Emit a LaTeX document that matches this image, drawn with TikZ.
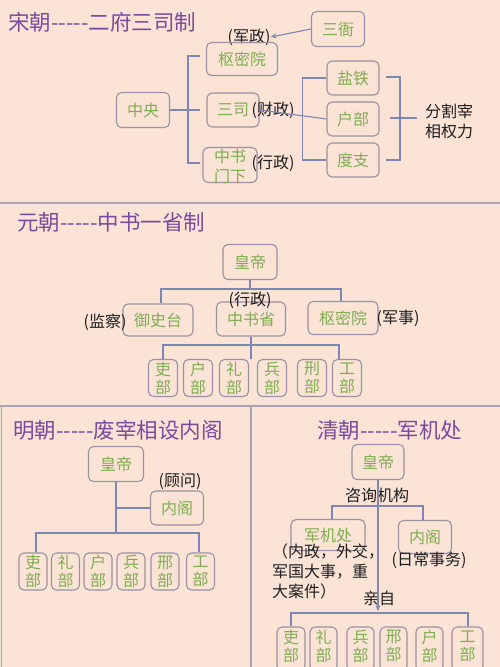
\documentclass[tikz,border=0pt]{standalone}
\usepackage{fontspec}
\setmainfont{Noto Sans CJK SC}
\usetikzlibrary{arrows.meta,calc}
\definecolor{bg}{RGB}{251,227,214}
\definecolor{ttl}{RGB}{122,74,158}
\definecolor{grn}{RGB}{128,172,82}
\definecolor{bdr}{RGB}{152,146,162}
\definecolor{lnk}{RGB}{128,134,178}
\definecolor{sepc}{RGB}{168,164,176}
\definecolor{ink}{RGB}{30,30,30}
\newcommand{\dashrun}{-{}-{}-{}-{}-}
\begin{document}
\begin{tikzpicture}[x=1pt,y=-1pt,
  box/.style={draw=bdr, line width=1.1pt, rounded corners=5pt, inner sep=0pt, text=grn, font=\fontsize{16}{18}\selectfont},
  sbox/.style={box, minimum width=29pt, minimum height=37pt, align=center},
  qbox/.style={draw=bdr, line width=1.1pt, rounded corners=5pt, inner sep=0pt, minimum height=44pt},
  gtext/.style={text=grn, inner sep=0pt, align=center, font=\fontsize{16}{18}\selectfont},
  btext/.style={text=ink, inner sep=0pt, font=\fontsize{16}{20}\selectfont},
  ttlnode/.style={text=ttl, inner sep=0pt, anchor=west, font=\fontsize{21.5}{24}\selectfont},
  link/.style={draw=lnk, line width=1.1pt},
  sepline/.style={draw=sepc, line width=1.2pt},
  arr/.style={link, -{Stealth[length=6pt,width=5pt]}}
]
\fill[bg] (0,0) rectangle (500,667);
\useasboundingbox (0,0) rectangle (500,667);

% ---------------- Song ----------------
\node[ttlnode] (t1) at (8,22) {宋朝\dashrun 二府三司制};
\node[box, minimum width=53pt, minimum height=35pt] (sanya) at (338,29) {三衙};
\node[btext] (jz) at (249,37) {(军政)};
\node[box, minimum width=71pt, minimum height=33pt] (smy) at (242,59) {枢密院};
\node[box, minimum width=52pt, minimum height=34pt] (sansi) at (233,110) {三司};
\node[btext] (cz) at (273,110) {(财政)};
\node[box, minimum width=54pt, minimum height=35pt] (zsmx) at (230,165) {};
\node[gtext, font=\fontsize{16}{20}\selectfont] (zsmxt) at (230,166) {中书\\门下};
\node[btext] (xz1) at (273,163) {(行政)};
\node[box, minimum width=53pt, minimum height=35pt] (zy) at (143,110) {中央};
\node[box, minimum width=52pt, minimum height=34pt] (yt) at (353,78) {盐铁};
\node[box, minimum width=52pt, minimum height=34pt] (hb1) at (353,119) {户部};
\node[box, minimum width=52pt, minimum height=34pt] (dz) at (353,160) {度支};
\node[btext, align=center] (fg) at (449,121) {分割宰\\相权力};

\draw[arr] (sanya.west) -- (jz.east);
\coordinate (b1t) at (200,56);
\coordinate (b1b) at (200,163);
\coordinate (b1m) at (200,110);
\draw[link] (zy.east) -- (b1m);
\draw[link] (b1t) -- ++(-12,0) |- (b1b);
\draw[link] (sansi.east) -- (hb1.west);
\draw[link] (yt.west) -- ++(-24,0) |- (dz.west);
\coordinate (b2t) at (386,77);
\coordinate (b2b) at (386,160);
\coordinate (b2ms) at (390,118);
\coordinate (b2me) at (417,118);
\draw[link] (b2t) -- ++(14,0) |- (b2b);
\draw[link] (b2ms) -- (b2me);

\draw[sepline] (0,203) -- (500,203);

% ---------------- Yuan ----------------
\node[ttlnode] (t2) at (17,222) {元朝\dashrun 中书一省制};
\node[box, minimum width=54pt, minimum height=35pt] (hd2) at (250,262) {皇帝};
\node[box, minimum width=70pt, minimum height=32pt] (yst) at (158,320) {御史台};
\node[btext] (jc) at (105,322) {(监察)};
\node[box, minimum width=69pt, minimum height=34pt] (zss) at (251,319) {中书省};
\node[btext] (xz2) at (250,300) {(行政)};
\node[box, minimum width=70pt, minimum height=33pt] (smy2) at (343,318) {枢密院};
\node[btext] (js) at (398,318) {(军事)};
\foreach \n/\x/\c in {y1/163/吏, y2/198/户, y3/234/礼, y4/272/兵, y5/312/刑, y6/347/工}
  \node[sbox] (\n) at (\x,378) {\c\\部};

\coordinate (y2j) at (250,289);
\coordinate (y2a) at (161,289);
\coordinate (y2b) at (341,289);
\draw[link] (hd2.south) -- (y2j);
\draw[link] (yst.north -| y2a) -- (y2a) -- (y2b) -- (smy2.north -| y2b);
\draw[link] (zss.south) -- (zss.south |- y3.north);
\coordinate (y3a) at (163,345);
\coordinate (y3b) at (339,345);
\draw[link] (y1.north) -- (y3a) -- (y3b) -- (y3b |- y6.north);

\draw[sepline] (0,406) -- (500,406);
\draw[sepline] (251,406) -- (251,667);
\draw[sepline, line width=0.8pt] (1,406) -- (1,667);

% ---------------- Ming ----------------
\node[ttlnode] (t3) at (13,430) {明朝\dashrun 废宰相设内阁};
\node[box, minimum width=55pt, minimum height=35pt] (hd3) at (116,464) {皇帝};
\node[btext] (gw) at (180,481) {(顾问)};
\node[box, minimum width=53pt, minimum height=34pt] (ng3) at (177,508) {内阁};
\foreach \n/\x/\c in {m1/33/吏, m2/65.5/礼, m3/98/户, m4/131/兵, m5/165/邢, m6/200.5/工}
  \node[sbox, minimum width=28pt] (\n) at (\x,571.5) {\c\\部};

\coordinate (m0) at (116,533);
\draw[link] (hd3.south) -- (m0);
\draw[link] (hd3.south |- ng3.west) -- (ng3.west);
\coordinate (ma) at (36,533);
\coordinate (mb) at (199,533);
\draw[link] (m1.north -| ma) -- (ma) -- (mb) -- (m6.north -| mb);

% ---------------- Qing ----------------
\node[ttlnode] (t4) at (317,430) {清朝\dashrun 军机处};
\node[box, minimum width=52pt, minimum height=35pt] (hd4) at (378,462) {皇帝};
\node[btext] (zx) at (377,495) {咨询机构};
\node[box, minimum width=74pt, minimum height=31pt] (jjc) at (328,535) {军机处};
\node[btext, anchor=north west, align=left] (jjct) at (272,544) {（内政，外交，\\军国大事，重\\大案件）};
\node[box, minimum width=53pt, minimum height=33pt] (ng4) at (425,537) {内阁};
\node[btext] (rc) at (429,560) {(日常事务)};
\node[btext] (qz) at (379,598) {亲自};
\foreach \n/\x/\w/\c in {q1/291/28/吏, q2/323.5/27/礼, q3/360.5/27/兵, q4/393.5/27/邢, q5/429.5/27/户, q6/467.5/31/工}{
  \node[qbox, minimum width=\w pt] (\n) at (\x,649) {};
  \node[gtext] (\n t) at (\x,646) {\c\\部};
}

\coordinate (qa) at (378,611);
\draw[arr] (hd4.south) -- (qa);
\coordinate (qb) at (332,506);
\coordinate (qc) at (423,506);
\draw[link] (jjc.north -| qb) -- (qb) -- (qc) -- (ng4.north -| qc);
\coordinate (qd) at (291,613);
\coordinate (qe) at (468,613);
\draw[link] (q1.north) -- (qd) -- (qe) -- (q6.north -| qe);
\end{tikzpicture}
\end{document}
